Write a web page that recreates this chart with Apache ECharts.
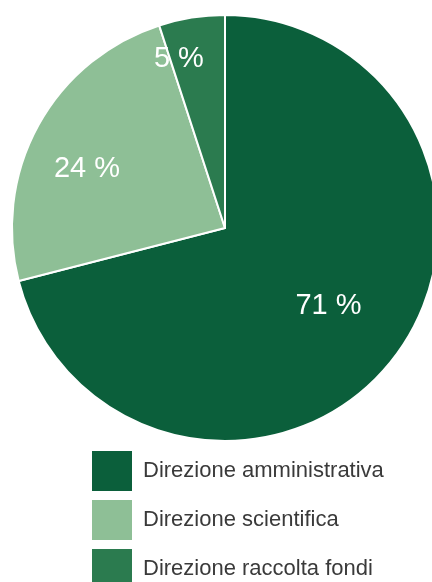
<!DOCTYPE html>
<html>
<head>
<meta charset="utf-8">
<script src="https://cdn.jsdelivr.net/npm/echarts@6/dist/echarts.min.js"></script>
<style>
  html, body { margin: 0; padding: 0; background: #ffffff; }
  #chart { width: 432px; height: 582px; }
</style>
</head>
<body>
<div id="chart"></div>
<script>
// Ripartizione per direzione (percentuali)
const categories = ['Direzione amministrativa', 'Direzione scientifica', 'Direzione raccolta fondi'];
const shares = [71, 24, 5];

const sliceColors = ['#0b5f3b', '#8ebf96', '#2b7b4f'];
// fine-tuning of where each percentage sits inside its slice
const labelShift = [[17, 11], [-42, -6], [-29, -61]];

const chart = echarts.init(document.getElementById('chart'), null, { renderer: 'canvas' });

chart.setOption({
  animation: false,
  backgroundColor: '#ffffff',
  legend: {
    orient: 'vertical',
    left: 90,
    top: 449,
    height: 170,
    padding: 0,
    itemWidth: 42,
    itemHeight: 42,
    itemGap: 5,
    icon: 'rect',
    selectedMode: false,
    data: categories,
    textStyle: {
      fontFamily: 'Liberation Sans, Arial, sans-serif',
      fontSize: 22,
      color: '#3a3a3a',
      padding: [0, 0, 0, 5]
    }
  },
  series: [{
    type: 'pie',
    center: [225, 228],
    radius: 213,
    startAngle: 90,
    clockwise: true,
    silent: true,
    data: categories.map((name, i) => ({
      name: name,
      value: shares[i],
      itemStyle: { color: sliceColors[i] }
    })),
    itemStyle: { borderColor: '#ffffff', borderWidth: 2 },
    label: {
      show: true,
      position: 'inside',
      formatter: '{c} %',
      color: '#ffffff',
      fontFamily: 'Liberation Sans, Arial, sans-serif',
      fontSize: 29
    },
    labelLine: { show: false },
    labelLayout: function (params) {
      const s = labelShift[params.dataIndex];
      return { dx: s[0], dy: s[1] };
    }
  }]
});
</script>
</body>
</html>
